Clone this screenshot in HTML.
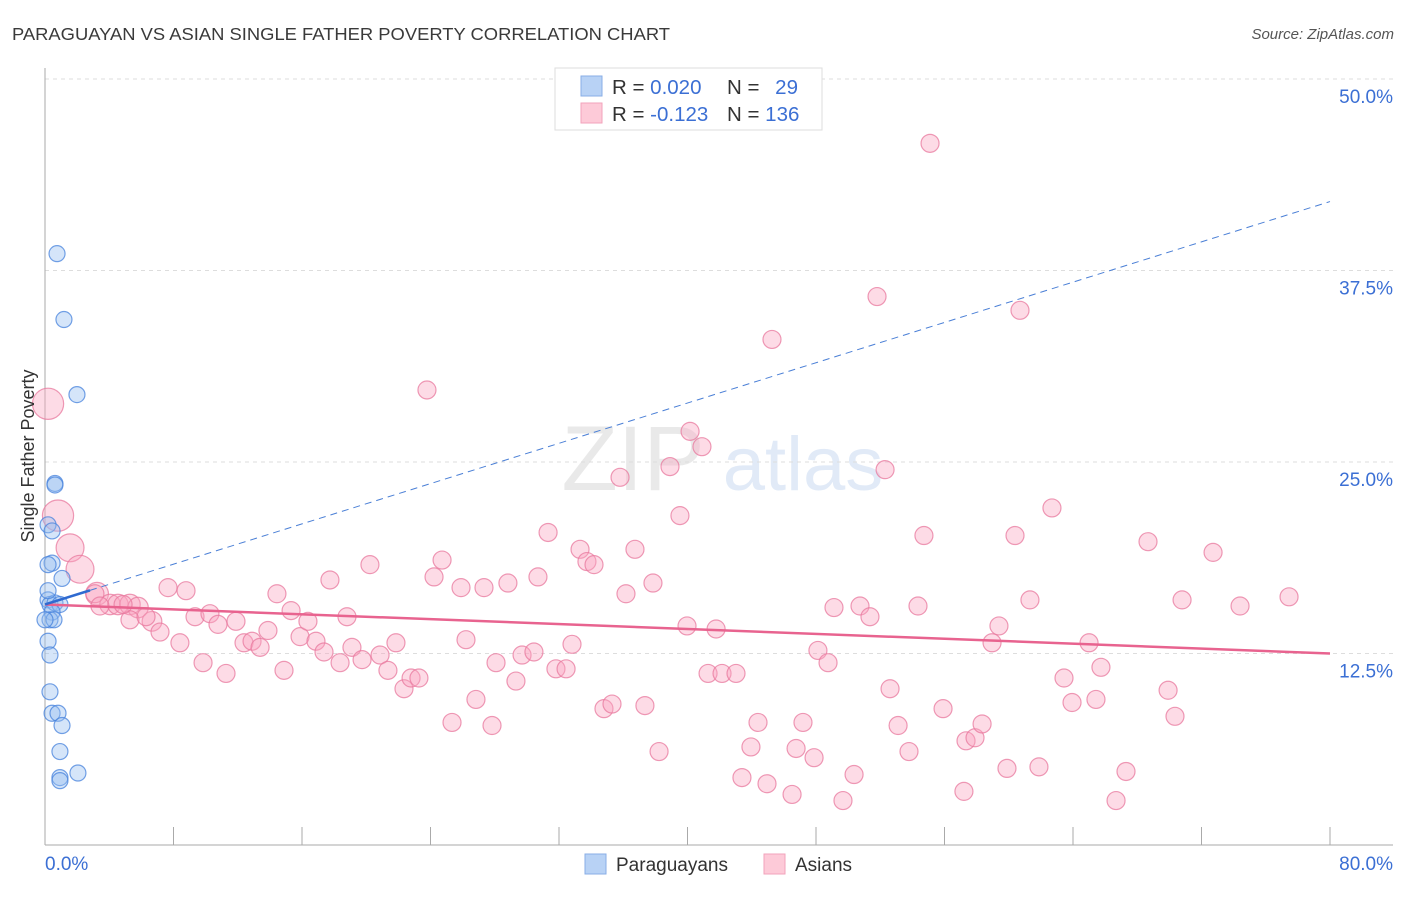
<!DOCTYPE html>
<html><head><meta charset="utf-8"><style>
body{margin:0;background:#fff;font-family:"Liberation Sans",sans-serif;}
svg text{font-family:"Liberation Sans",sans-serif;}
</style></head><body>
<svg id="chart" width="1406" height="892" xmlns="http://www.w3.org/2000/svg">
<text x="12" y="40" font-size="17.5" fill="#3a3a3a" textLength="658" lengthAdjust="spacingAndGlyphs">PARAGUAYAN VS ASIAN SINGLE FATHER POVERTY CORRELATION CHART</text>
<text x="1394" y="39" font-size="15" fill="#555" text-anchor="end" font-style="italic">Source: ZipAtlas.com</text>
<g opacity="0.5">
<text x="633" y="490" font-size="92" fill="#d4d4d4" text-anchor="middle" font-family="Liberation Serif">ZIP</text>
<text x="803" y="490" font-size="76" fill="#c4d6f0" text-anchor="middle">atlas</text>
</g>
<g id="grid"></g>
<g id="axes"></g>
<g id="pink"></g>
<g id="blue"></g>
<g id="trends"></g>
<text transform="translate(34,456) rotate(-90)" font-size="18" fill="#333" text-anchor="middle">Single Father Poverty</text>
<g>
<rect x="555" y="68" width="267" height="62" fill="#fff" stroke="#ddd"/>
<rect x="581" y="76" width="21" height="20" fill="#b8d2f5" stroke="#88aee6"/>
<rect x="581" y="103" width="21" height="20" fill="#fdcad8" stroke="#f2a3bb"/>
<text x="612" y="94" font-size="20.5" fill="#333">R = <tspan fill="#3b6fd4">0.020</tspan></text>
<text x="727" y="94" font-size="20.5" fill="#333">N = <tspan fill="#3b6fd4" dx="10">29</tspan></text>
<text x="612" y="121" font-size="20.5" fill="#333">R = <tspan fill="#3b6fd4">-0.123</tspan></text>
<text x="727" y="121" font-size="20.5" fill="#333">N = <tspan fill="#3b6fd4">136</tspan></text>
</g>
<g>
<rect x="585" y="854" width="21" height="20" fill="#b8d2f5" stroke="#88aee6"/>
<text x="616" y="871" font-size="19" fill="#333">Paraguayans</text>
<rect x="764" y="854" width="21" height="20" fill="#fdcad8" stroke="#f2a3bb"/>
<text x="795" y="871" font-size="19" fill="#333">Asians</text>
</g>
</svg>
<script>
const yTicks=[12.5,25,37.5,50];
const yTickLabels=["12.5%","25.0%","37.5%","50.0%"];
const xTicks=[0,8,16,24,32,40,48,56,64,72,80];
const xEndLabels=["0.0%","80.0%"];
const blueX=[0.75,1.18,1.99,0.62,0.62,0.19,0.44,0.44,0.19,1.06,0.19,0.31,0.62,0.93,0.44,0.31,0.56,0.19,0.31,0.31,0.44,0.81,1.06,0.93,0.93,0.93,2.05,0.19,0];
const blueY=[38.6,34.3,29.4,23.6,23.5,20.9,20.5,18.4,18.3,17.4,16.0,15.7,15.8,15.7,15.2,14.7,14.7,13.3,12.4,10.0,8.6,8.6,7.8,6.1,4.4,4.2,4.7,16.6,14.7];
const pinkX=[0.19,0.81,1.56,2.18,3.24,4.05,4.54,5.29,5.79,6.66,5.29,7.16,8.40,7.66,8.78,9.34,9.84,10.27,10.77,11.27,11.89,12.39,12.89,13.39,13.88,14.44,14.88,15.32,15.88,16.37,16.87,17.37,17.74,18.37,18.80,19.11,19.74,20.23,20.86,21.35,21.85,22.35,22.79,23.28,23.78,24.22,24.72,25.34,25.90,26.21,26.83,27.33,27.83,28.08,28.82,29.32,29.70,30.44,30.69,31.32,31.81,32.44,32.81,33.31,33.74,34.18,34.80,35.30,36.17,36.73,37.35,37.85,38.23,38.91,39.53,39.97,40.16,40.90,41.28,41.78,42.15,43.02,35.80,43.39,43.95,44.39,44.95,45.26,46.51,46.76,47.19,47.88,48.12,48.75,49.12,49.68,50.37,50.74,51.36,51.80,52.30,52.61,53.11,53.79,54.35,54.72,55.10,55.91,57.21,57.34,57.90,58.34,58.96,59.39,59.89,60.39,60.70,61.32,61.88,63.44,63.94,65.00,65.43,65.74,67.30,66.68,68.67,69.92,70.35,70.79,72.72,74.40,77.45,62.69,3.11,4.86,6.29,3.42];
const pinkY=[28.8,21.5,19.4,18.0,16.4,15.7,15.7,15.7,15.5,14.6,14.7,13.9,13.2,16.8,16.6,14.9,11.9,15.1,14.4,11.2,14.6,13.2,13.3,12.9,14.0,16.4,11.4,15.3,13.6,14.6,13.3,12.6,17.3,11.9,14.9,12.9,12.1,18.3,12.4,11.4,13.2,10.2,10.9,10.9,29.7,17.5,18.6,8.0,16.8,13.4,9.5,16.8,7.8,11.9,17.1,10.7,12.4,12.6,17.5,20.4,11.5,11.5,13.1,19.3,18.5,18.3,8.9,9.2,16.4,19.3,9.1,17.1,6.1,24.7,21.5,14.3,27.0,26.0,11.2,14.1,11.2,11.2,24.0,4.4,6.4,8.0,4.0,33.0,3.3,6.3,8.0,5.7,12.7,11.9,15.5,2.9,4.6,15.6,14.9,35.8,24.5,10.2,7.8,6.1,15.6,20.2,45.8,8.9,3.5,6.8,7.0,7.9,13.2,14.3,5.0,20.2,34.9,16.0,5.1,10.9,9.3,13.2,9.5,11.6,4.8,2.9,19.8,10.1,8.4,16.0,19.1,15.6,16.2,22.0,16.4,15.7,14.9,15.6];
const pinkWeight=[3,3,2.4,2.4,1.6,1.3,1.3,1.3,1.3,1.2];
const blueTrend=[15.7,42.0];
const pinkTrend=[15.7,12.5];
const blueSolidEnd=2.8;

const X=v=>45+v*(1285/80), Y=v=>845-v*(766/50);
const NS="http://www.w3.org/2000/svg";
function mk(tag,attrs,parent){const e=document.createElementNS(NS,tag);for(const k in attrs)e.setAttribute(k,attrs[k]);parent.appendChild(e);return e;}
const grid=document.getElementById('grid'),axes=document.getElementById('axes');
yTicks.forEach((t,i)=>{
 const l=mk('line',{x1:45,x2:1393,y1:Y(t),y2:Y(t),stroke:'#ddd','stroke-dasharray':'4,4'},grid);
 
 
 const tx=mk('text',{x:1393,y:Y(t)+24,'font-size':19,fill:'#3b6fd4','text-anchor':'end'},axes);
 tx.textContent=yTickLabels[i];
 
 
});
const ya=mk('line',{x1:45,x2:45,y1:68,y2:845,stroke:'#aaa'},axes);


const xa=mk('line',{x1:45,x2:1393,y1:845,y2:845,stroke:'#aaa'},axes);


xTicks.forEach(t=>{const l=mk('line',{x1:X(t),x2:X(t),y1:827,y2:845,stroke:'#aaa'},axes);
 
 });
const xl0=mk('text',{x:45,y:870,'font-size':19,fill:'#3b6fd4'},axes);xl0.textContent=xEndLabels[0];


const xl1=mk('text',{x:1393,y:870,'font-size':19,fill:'#3b6fd4','text-anchor':'end'},axes);xl1.textContent=xEndLabels[1];


const pg=document.getElementById('pink');
pinkX.forEach((x,i)=>{const w=pinkWeight[i]||1;
 const c=mk('circle',{cx:X(x),cy:Y(pinkY[i]),r:9*Math.sqrt(w),fill:'rgba(250,165,192,0.4)',stroke:'rgba(232,120,158,0.75)','stroke-width':1.2},pg);
 
 });
const bg=document.getElementById('blue');
blueX.forEach((x,i)=>{
 const c=mk('circle',{cx:X(x),cy:Y(blueY[i]),r:8,fill:'rgba(150,190,240,0.4)',stroke:'rgba(70,130,220,0.75)','stroke-width':1.2},bg);
 
 });
const tr=document.getElementById('trends');
const bAt=v=>blueTrend[0]+(blueTrend[1]-blueTrend[0])*v/80;
const l1=mk('line',{x1:X(0),y1:Y(pinkTrend[0]),x2:X(80),y2:Y(pinkTrend[1]),stroke:'#e8638f','stroke-width':2.5},tr);


const l2=mk('line',{x1:X(blueSolidEnd),y1:Y(bAt(blueSolidEnd)),x2:X(80),y2:Y(bAt(80)),stroke:'#4a7fd6','stroke-width':1,'stroke-dasharray':'7,5'},tr);


const l3=mk('line',{x1:X(0),y1:Y(bAt(0)),x2:X(blueSolidEnd),y2:Y(bAt(blueSolidEnd)),stroke:'#2f6ad0','stroke-width':2.5},tr);


</script>
</body></html>
